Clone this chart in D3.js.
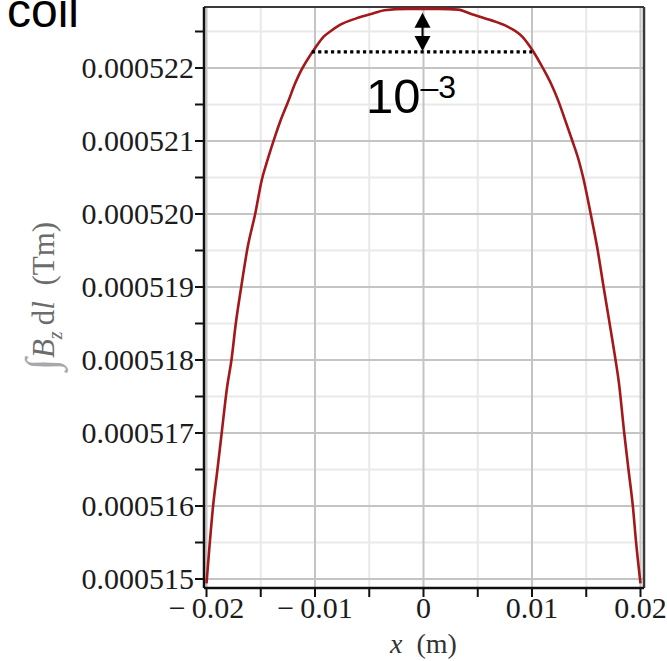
<!DOCTYPE html>
<html>
<head>
<meta charset="utf-8">
<script src="https://cdn.jsdelivr.net/npm/d3@7"></script>
<style>
  html, body { margin: 0; padding: 0; background: #fff; }
  svg { display: block; }
</style>
</head>
<body>
<svg id="chart" width="667" height="661"></svg>
<script>
// ---- data ----
const xPositions = [-0.0200,-0.0197,-0.0194,-0.0190,-0.0186,-0.0181,-0.0177,-0.0173,-0.0168,-0.0162,-0.0155,-0.0149,-0.0145,-0.0140,-0.0136,-0.0132,-0.0125,-0.0118,-0.0114,-0.0105,-0.0100,-0.0092,-0.0086,-0.0077,-0.0062,-0.0046,-0.0036,-0.0015,0,0.0015,0.0032,0.0044,0.0061,0.0077,0.0091,0.0101,0.0110,0.0118,0.0124,0.0130,0.0137,0.0143,0.0147,0.0154,0.0160,0.0166,0.0171,0.0177,0.0180,0.0185,0.0189,0.0193,0.0196,0.0200];
// integral of Bz dl, in units of 1e-6 T·m
const bzIntegralMicro = [514.94,515.49,515.99,516.49,517.00,517.63,518.00,518.50,519.00,519.55,520.01,520.47,520.68,520.92,521.10,521.27,521.53,521.80,521.93,522.16,522.27,522.43,522.50,522.59,522.68,522.75,522.79,522.81,522.81,522.81,522.80,522.74,522.66,522.57,522.43,522.23,522.00,521.77,521.56,521.31,521.01,520.74,520.51,520.01,519.55,519.00,518.55,518.00,517.70,517.00,516.49,515.99,515.49,514.94];

const xMajorTicks = [-0.02, -0.01, 0, 0.01, 0.02];
const xMinorTicks = [-0.015, -0.005, 0.005, 0.015];
const xTickLabels = ["\u2212\u20090.02", "\u2212\u20090.01", "0", "0.01", "0.02"];
const yMajorTicks = [0.000515, 0.000516, 0.000517, 0.000518, 0.000519, 0.000520, 0.000521, 0.000522];
const yMinorTicks = [0.0005155, 0.0005165, 0.0005175, 0.0005185, 0.0005195, 0.0005205, 0.0005215, 0.0005225];
const yTickLabels = ["0.000515","0.000516","0.000517","0.000518","0.000519","0.000520","0.000521","0.000522"];

// annotation: dotted level (≈ max × (1 − 10⁻³))
const dropLevel = 0.00052222;
const dottedSpan = [-0.0103, 0.0100];

const data = xPositions.map((x, i) => ({ x: x, v: bzIntegralMicro[i] * 1e-6 }));

// ---- layout ----
const svg = d3.select("#chart");
const frame = { left: 204, right: 644, top: 7, bottom: 588 };

const x = d3.scaleLinear().domain([-0.02, 0.02]).range([206.5, 640.5]);
const y = d3.scaleLinear().domain([0.000515, 0.000522]).range([579, 68]);

const serif = "'Liberation Serif', 'Times New Roman', serif";
const sans = "'Liberation Sans', Arial, sans-serif";

// minor grid
const grid = svg.append("g");
grid.selectAll(".vminor").data(xMinorTicks).enter().append("line")
  .attr("x1", d => x(d)).attr("x2", d => x(d))
  .attr("y1", frame.top).attr("y2", frame.bottom)
  .attr("stroke", "#e9e9e9").attr("stroke-width", 2);
grid.selectAll(".hminor").data(yMinorTicks).enter().append("line")
  .attr("x1", frame.left).attr("x2", frame.right)
  .attr("y1", d => y(d)).attr("y2", d => y(d))
  .attr("stroke", "#e9e9e9").attr("stroke-width", 2);
// major grid
grid.selectAll(".vmajor").data(xMajorTicks).enter().append("line")
  .attr("x1", d => x(d)).attr("x2", d => x(d))
  .attr("y1", frame.top).attr("y2", frame.bottom)
  .attr("stroke", "#c4c4c4").attr("stroke-width", 2);
grid.selectAll(".hmajor").data(yMajorTicks).enter().append("line")
  .attr("x1", frame.left).attr("x2", frame.right)
  .attr("y1", d => y(d)).attr("y2", d => y(d))
  .attr("stroke", "#c4c4c4").attr("stroke-width", 2);

// frame (top and right)
svg.append("line").attr("x1", frame.left).attr("x2", frame.right)
  .attr("y1", frame.top).attr("y2", frame.top).attr("stroke", "#3a3a3a").attr("stroke-width", 2);
svg.append("line").attr("x1", frame.right).attr("x2", frame.right)
  .attr("y1", frame.top).attr("y2", frame.bottom).attr("stroke", "#3a3a3a").attr("stroke-width", 2.5);

// curve
const line = d3.line().x(d => x(d.x)).y(d => y(d.v)).curve(d3.curveMonotoneX);
svg.append("path").datum(data)
  .attr("d", line)
  .attr("fill", "none")
  .attr("stroke", "#a3181b")
  .attr("stroke-width", 2.6);

// axes: left
const yAxis = svg.append("g").attr("transform", `translate(${frame.left},0)`);
yAxis.append("line").attr("x1", 0).attr("x2", 0).attr("y1", frame.top).attr("y2", frame.bottom)
  .attr("stroke", "#111").attr("stroke-width", 2.5);
yAxis.selectAll(".tk").data(yMajorTicks.concat(yMinorTicks)).enter().append("line")
  .attr("x1", -9).attr("x2", 0).attr("y1", d => y(d)).attr("y2", d => y(d))
  .attr("stroke", "#111").attr("stroke-width", 2);
yAxis.selectAll(".lb").data(yMajorTicks).enter().append("text")
  .attr("x", -10).attr("y", d => y(d) + 10)
  .attr("text-anchor", "end")
  .attr("font-family", serif).attr("font-size", 30).attr("fill", "#1c1c1c")
  .text((d, i) => yTickLabels[i]);

// axes: bottom
const xAxis = svg.append("g").attr("transform", `translate(0,${frame.bottom})`);
xAxis.append("line").attr("x1", frame.left).attr("x2", frame.right).attr("y1", 0).attr("y2", 0)
  .attr("stroke", "#111").attr("stroke-width", 2.5);
xAxis.selectAll(".tk").data(xMajorTicks.concat(xMinorTicks)).enter().append("line")
  .attr("x1", d => x(d)).attr("x2", d => x(d)).attr("y1", 0).attr("y2", 9)
  .attr("stroke", "#111").attr("stroke-width", 2);
xAxis.selectAll(".lb").data(xMajorTicks).enter().append("text")
  .attr("x", d => x(d)).attr("y", 30)
  .attr("text-anchor", "middle")
  .attr("font-family", serif).attr("font-size", 30).attr("fill", "#1c1c1c")
  .text((d, i) => xTickLabels[i]);

// x axis title
const xt = svg.append("text").attr("x", x(0)).attr("y", 653)
  .attr("text-anchor", "middle").attr("font-family", serif).attr("font-size", 28).attr("fill", "#333");
xt.append("tspan").attr("font-style", "italic").text("x");
xt.append("tspan").text("\u2002(m)");

// y axis title (rotated)
const yt = svg.append("text")
  .attr("transform", "translate(54,296) rotate(-90)")
  .attr("text-anchor", "middle").attr("font-family", serif).attr("font-size", 31).attr("fill", "#6c6c6c");
yt.append("tspan").attr("font-size", 44).attr("fill", "#a8a8a8").attr("dy", 2).text("\u222B");
yt.append("tspan").attr("font-style", "italic").attr("dy", -2).text("B");
yt.append("tspan").attr("font-style", "italic").attr("font-size", 20).attr("dy", 8).text("z");
yt.append("tspan").attr("dy", -8).text("\u2009d");
yt.append("tspan").attr("font-style", "italic").text("l");
yt.append("tspan").text("\u2002(Tm)");

// ---- annotation ----
const vMax = d3.max(data, d => d.v);
svg.append("line")
  .attr("x1", x(dottedSpan[0])).attr("x2", x(dottedSpan[1]))
  .attr("y1", y(dropLevel)).attr("y2", y(dropLevel))
  .attr("stroke", "#000").attr("stroke-width", 3.2)
  .attr("stroke-dasharray", "3.2,3.2");

// double arrow at x = 0
const ax = x(0) - 1;
const aTop = y(vMax) + 4, aBot = y(dropLevel) - 1;
svg.append("line").attr("x1", ax).attr("x2", ax).attr("y1", aTop + 12).attr("y2", aBot - 12)
  .attr("stroke", "#000").attr("stroke-width", 2);
svg.append("path")
  .attr("d", `M${ax},${aTop} L${ax - 8},${aTop + 15} L${ax + 8},${aTop + 15} Z`).attr("fill", "#000");
svg.append("path")
  .attr("d", `M${ax},${aBot} L${ax - 8},${aBot - 15} L${ax + 8},${aBot - 15} Z`).attr("fill", "#000");

// 10^-3 label
const lab = svg.append("text").attr("x", 366).attr("y", 113)
  .attr("font-family", sans).attr("font-size", 49).attr("fill", "#000");
lab.append("tspan").text("10");
lab.append("tspan").attr("font-size", 32).attr("dy", -15).text("\u20133");

// "coil" fragment at top-left (cut by the top edge, as in the reference)
svg.append("text").attr("x", 7).attr("y", 27)
  .attr("font-family", sans).attr("font-size", 48).attr("fill", "#000")
  .text("coil");
</script>
</body>
</html>
